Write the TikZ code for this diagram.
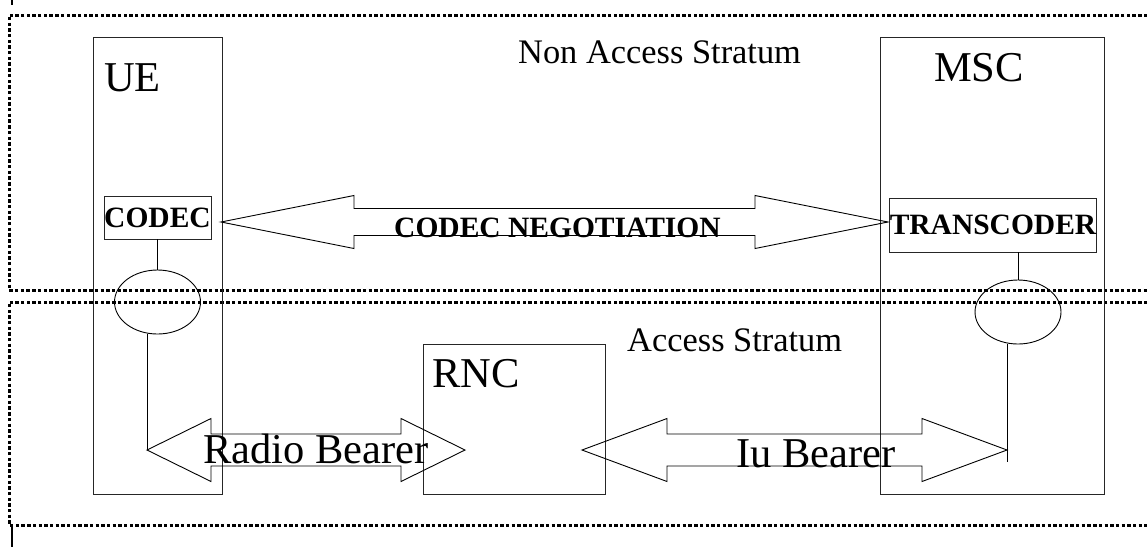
\documentclass[tikz,border=0pt]{standalone}
\usepackage{fontspec}
\setmainfont{Liberation Serif}
\usetikzlibrary{positioning, calc, shapes.geometric}

% double block arrow: left tip, right tip, head length, head half height, shaft half height
\newcommand{\dblblock}[5]{%
  \draw[blockarrow] (#1) -- ++(#3,-#4) -- ++(0,{#4-#5}) -- ($(#2)+(-#3,-#5)$)
    -- ++(0,{-(#4-#5)}) -- (#2) -- ++(-#3,#4) -- ++(0,{-(#4-#5)})
    -- ($(#1)+(#3,#5)$) -- ++(0,{#4-#5}) -- cycle;}

\begin{document}
\begin{tikzpicture}[
        x=1pt, y=-1pt,
        stratum/.style={draw, line width=3pt, dash pattern=on 3.4pt off 2.3pt},
        entity/.style={rectangle, draw=black!85, line width=0.9pt, inner sep=0pt},
        unit/.style={rectangle, draw=black!85, line width=0.9pt, inner sep=0pt, font=\bfseries\fontsize{29.5}{29.5}\selectfont},
        sap/.style={ellipse, draw, line width=0.9pt, inner sep=0pt, minimum width=86pt, minimum height=64pt},
        bigtxt/.style={inner sep=0pt, anchor=base west, font=\fontsize{42.5}{42.5}\selectfont},
        midtxt/.style={inner sep=0pt, anchor=base west, font=\fontsize{34.4}{34.4}\selectfont},
        blockarrow/.style={draw, line width=0.9pt},
        link/.style={draw, line width=0.9pt}
    ]
    \useasboundingbox (0,0) rectangle (1147,547);

    % strata
    \draw[stratum] (1170,15) -- (9,15) -- (9,290) -- (1170,290);
    \draw[stratum] (1170,302) -- (9,302) -- (9,525) -- (1170,525);
    \draw[line width=1.5pt] (12,0) -- (12,5);
    \draw[line width=1.5pt] (12,527) -- (12,547);
    \node[midtxt] (nas) at (518,63) {Non Access Stratum};
    \node[midtxt] (as) at (627,351) {Access Stratum};

    % network elements
    \node[entity, minimum width=129pt, minimum height=457pt] (ue) at (157.5,265.5) {};
    \node[entity, minimum width=224pt, minimum height=457pt] (msc) at (992,265.5) {};
    \node[entity, minimum width=182pt, minimum height=150pt] (rnc) at (514,419) {};
    \node[bigtxt] (uelbl) at (104,91) {UE};
    \node[bigtxt] (msclbl) at (934,81) {MSC};
    \node[bigtxt] (rnclbl) at (432,387) {RNC};

    \node[unit, minimum width=107pt, minimum height=43pt] (codec) at (157.5,217.5) {CODEC};
    \node[unit, minimum width=204pt, minimum height=54pt] (tc) at (993,225) {TRANSCODER};

    \node[sap] (uesap) at (157.5,302) {};
    \node[sap] (mscsap) at (1018,312) {};

    % bearer end points
    \coordinate (rbL) at (147,450);
    \coordinate (rbR) at (465,450);
    \coordinate (iuL) at (582,450);
    \coordinate (iuR) at (1007,450);
    \coordinate (ngL) at (221,222);
    \coordinate (ngR) at (888,222);

    \draw[link] (codec.south) -- (uesap.north);
    \draw[link] (uesap.south -| rbL) -- (rbL);
    \draw[link] (mscsap.north |- tc.south) -- (mscsap.north);
    \draw[link] (mscsap.south -| iuR) -- ($(iuR)+(0,12)$);

    \dblblock{ngL}{ngR}{133}{26.5}{13.5}
    \dblblock{rbL}{rbR}{64}{31.5}{16}
    \dblblock{iuL}{iuR}{85}{31.5}{16}

    \node[inner sep=0pt, anchor=base west, font=\bfseries\fontsize{29.5}{29.5}\selectfont] (nglbl) at (394,237) {CODEC NEGOTIATION};
    \node[bigtxt] (rblbl) at (203,463) {Radio Bearer};
    \node[bigtxt] (iulbl) at (736,467) {Iu Bearer};
\end{tikzpicture}
\end{document}
